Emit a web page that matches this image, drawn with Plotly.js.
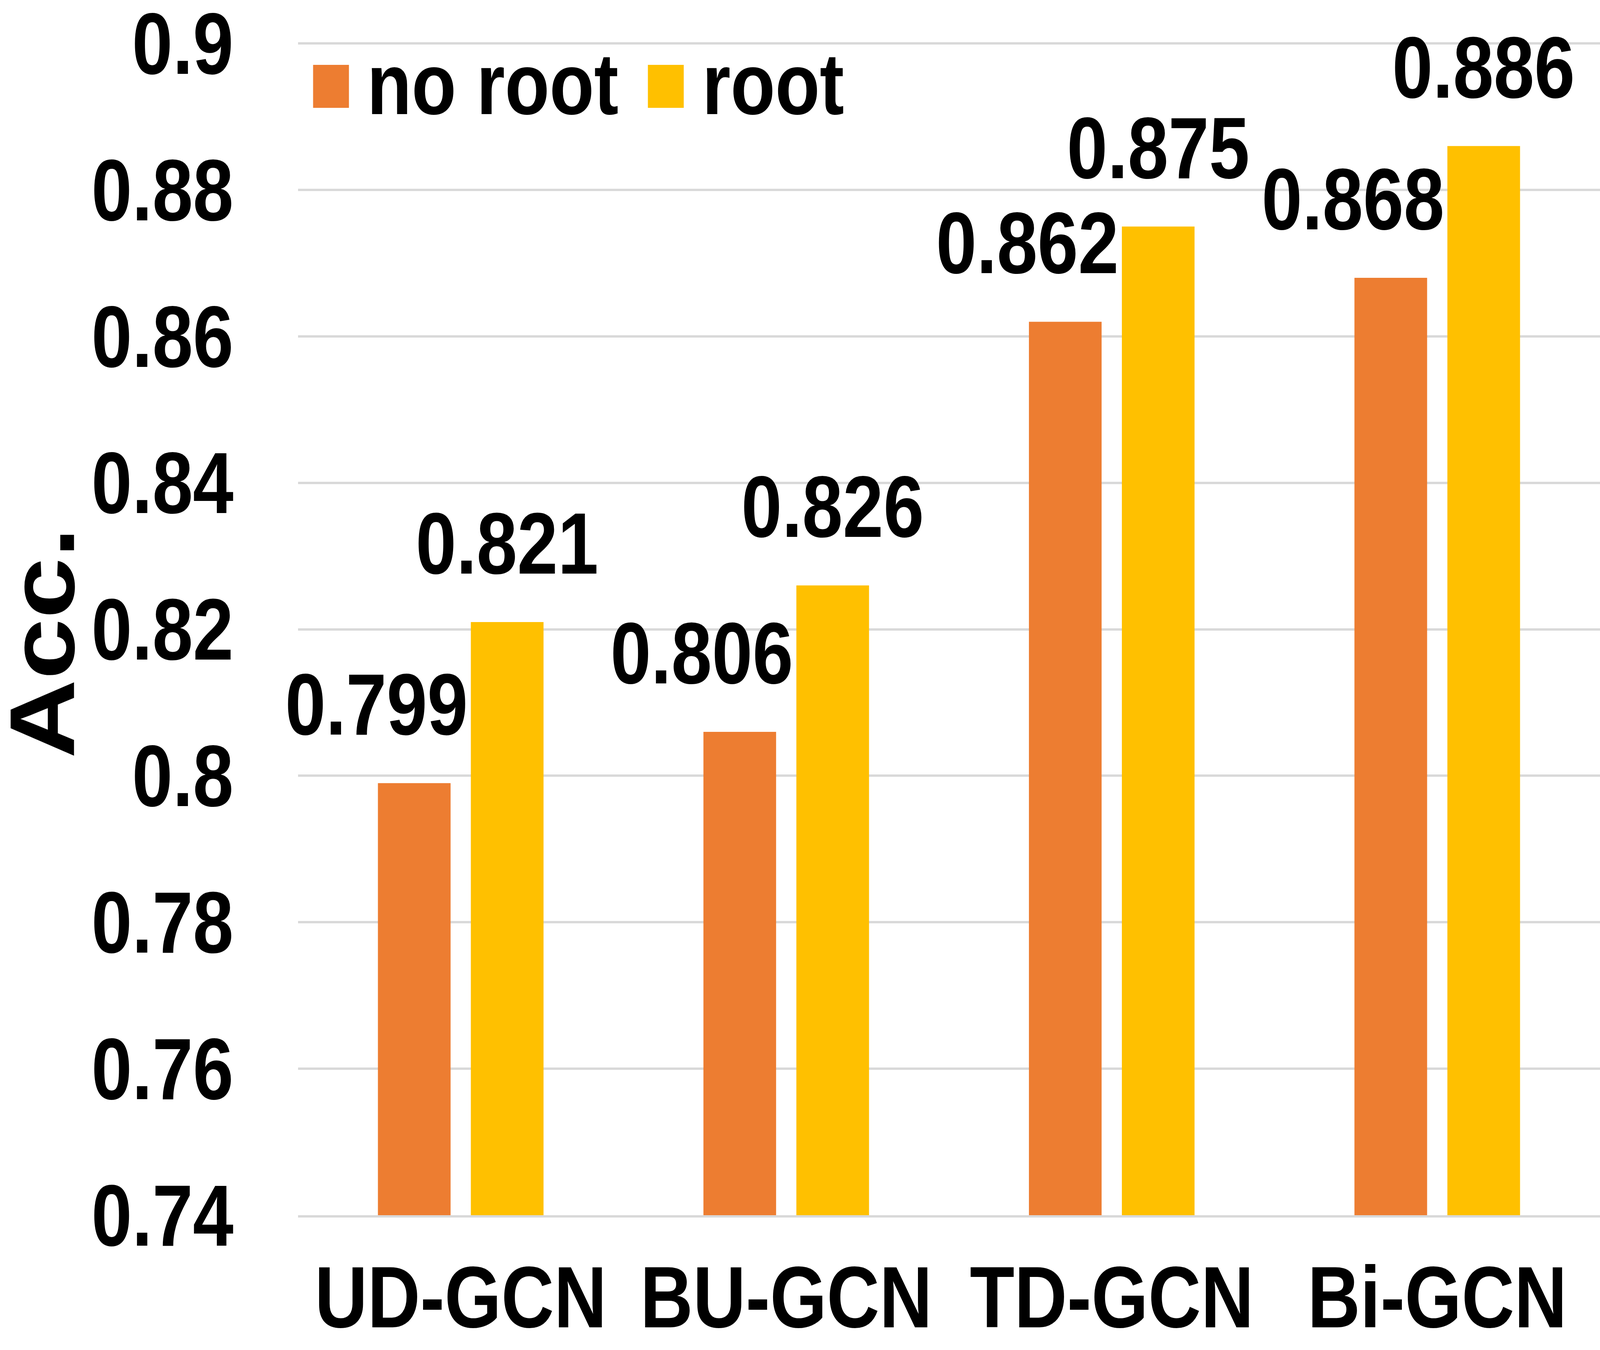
<!DOCTYPE html>
<html>
<head>
<meta charset="utf-8">
<script src="https://cdn.plot.ly/plotly-3.0.1.min.js"></script>
<style>
  html, body { margin: 0; padding: 0; background: #fff; overflow: hidden; }
  #plot { width: 4865px; height: 3455px; transform-origin: 0 0; }
</style>
</head>
<body>
<div id="plot"></div>
<script>
// Chart data
var categories = ['UD-GCN', 'BU-GCN', 'TD-GCN', 'Bi-GCN'];
var noRootAcc = [0.799, 0.806, 0.862, 0.868];
var rootAcc = [0.821, 0.826, 0.875, 0.886];
var seriesNames = ['no root', 'root'];
var seriesColors = ['#ED7D31', '#FFC000'];
var yTickValues = [0.74, 0.76, 0.78, 0.8, 0.82, 0.84, 0.86, 0.88, 0.9];
var yTickLabels = ['0.74', '0.76', '0.78', '0.8', '0.82', '0.84', '0.86', '0.88', '0.9'];
var yTitle = 'Acc.';

// the chart is laid out at the reference size (4865x3455)
var W = 4865, H = 3455;
var yMin = 0.74, yMax = 0.9006;   // a hair over 0.9 so the top grid line is kept
var baseY = 3110;                  // pixel row of 0.74
var pxPerUnit = 2999 / 0.16;       // 0.74 -> 0.9 spans 2999 px
var margin = {l: 906, r: 0, b: H - baseY};
margin.t = Math.round(baseY - (yMax - yMin) * pxPerUnit);
var plotW = W - margin.l - margin.r;
var plotH = H - margin.t - margin.b;
var bargap = 0.429;
var bargroupgap = 0.218;
// the "no root" value labels sit a bit left of their bars in the reference
var labelNudge = [-115, 0];

// if the window is not that size, stretch the finished drawing to fill it
var sx = window.innerWidth / W, sy = window.innerHeight / H;
if (Math.abs(sx - 1) > 0.001 || Math.abs(sy - 1) > 0.001) {
  document.getElementById('plot').style.transform = 'scale(' + sx + ',' + sy + ')';
}

var font = 'Liberation Sans, Arial, sans-serif';
var bigFont = {family: font, size: 222, color: '#000000', weight: 'bold'};

var allSeries = [noRootAcc, rootAcc];

var data = allSeries.map(function (vals, i) {
  return {
    type: 'bar',
    x: categories,
    y: vals,
    name: seriesNames[i],
    marker: {color: seriesColors[i], line: {width: 0}},
    hoverinfo: 'none'
  };
});

// value labels above each bar, shifted sideways onto its bar in the group
var catW = plotW / categories.length;
var slotW = catW * (1 - bargap) / allSeries.length;
var annotations = [];
allSeries.forEach(function (vals, i) {
  var shift = (i - (allSeries.length - 1) / 2) * slotW + labelNudge[i];
  vals.forEach(function (v, j) {
    annotations.push({
      xref: 'x', yref: 'y',
      x: categories[j], y: v,
      xshift: shift, yshift: 75,
      xanchor: 'center', yanchor: 'bottom',
      text: String(v),
      showarrow: false,
      font: bigFont
    });
  });
});

// hand made legend so the swatches can be as large as in the reference
function px2x(px) { return (px - margin.l) / plotW; }
function px2y(py) { return (margin.t + plotH - py) / plotH; }
var legendSwatchLeft = [952, 1970];
var legendTextLeft = [1114, 2133];
var shapes = [];
seriesNames.forEach(function (name, i) {
  shapes.push({
    type: 'rect', xref: 'paper', yref: 'paper',
    x0: px2x(legendSwatchLeft[i]), x1: px2x(legendSwatchLeft[i] + 109),
    y0: px2y(276), y1: px2y(166),
    fillcolor: seriesColors[i], line: {width: 0}
  });
  annotations.push({
    xref: 'paper', yref: 'paper',
    x: px2x(legendTextLeft[i]), y: px2y(215),
    xanchor: 'left', yanchor: 'middle',
    text: name, showarrow: false,
    font: bigFont
  });
});

// y axis title, rotated, placed by hand left of the tick labels
annotations.push({
  xref: 'paper', yref: 'paper',
  x: px2x(128), y: px2y(1646),
  xanchor: 'center', yanchor: 'middle',
  textangle: -90,
  text: yTitle, showarrow: false,
  font: {family: font, size: 280, color: '#000000', weight: 'bold'}
});

var layout = {
  width: W,
  height: H,
  margin: margin,
  paper_bgcolor: '#ffffff',
  plot_bgcolor: '#ffffff',
  showlegend: false,
  barmode: 'group',
  bargap: bargap,
  bargroupgap: bargroupgap,
  xaxis: {
    type: 'category',
    range: [-0.5, categories.length - 0.5],
    autorange: false,
    showgrid: false,
    showline: true,
    linecolor: '#D9D9D9',
    linewidth: 6,
    ticks: '',
    ticklabelstandoff: 15,
    tickfont: bigFont,
    fixedrange: true
  },
  yaxis: {
    range: [yMin, yMax],
    autorange: false,
    tickvals: yTickValues,
    ticktext: yTickLabels,
    ticklabeloverflow: 'allow',
    showgrid: true,
    gridcolor: '#D9D9D9',
    gridwidth: 6,
    zeroline: false,
    showline: false,
    ticks: '',
    ticklabelstandoff: 195,
    tickfont: bigFont,
    fixedrange: true
  },
  shapes: shapes,
  annotations: annotations
};

Plotly.newPlot('plot', data, layout, {displayModeBar: false, staticPlot: true});
</script>
</body>
</html>
